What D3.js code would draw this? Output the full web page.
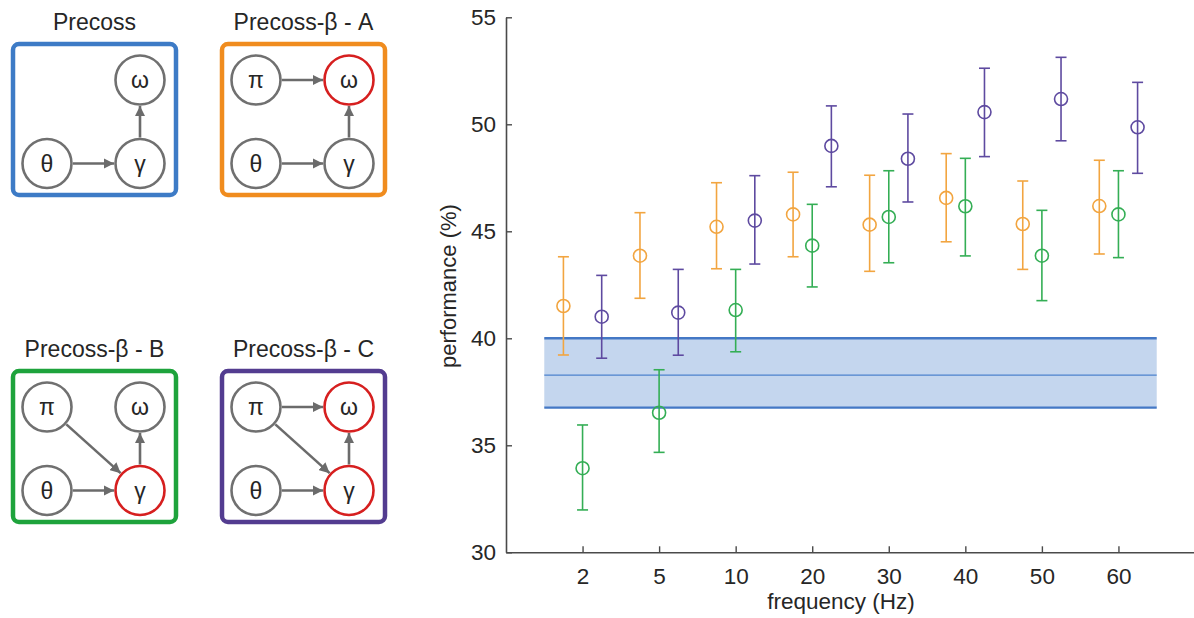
<!DOCTYPE html>
<html><head><meta charset="utf-8">
<script src="https://cdn.jsdelivr.net/npm/d3@7"></script>
<style>
html,body{margin:0;padding:0;background:#fff;}
svg{display:block;font-family:"Liberation Sans",Arial,sans-serif;}
</style></head>
<body><svg id="chart" width="1194" height="618"></svg>
<script>
// ---------- data ----------
const frequencies = ["2","5","10","20","30","40","50","60"];
const yTicks = [30,35,40,45,50,55];

const seriesNames = ["Precoss-β - A","Precoss-β - B","Precoss-β - C"];
const seriesColors = ["#F2A540","#34AE55","#5E4AA0"];
const seriesOffsets = [-0.25, 0, 0.25];

const meanA  = [41.51, 43.86, 45.21, 45.79, 45.31, 46.56, 45.34, 46.18];
const upperA = [43.81, 45.87, 47.27, 47.76, 47.62, 48.63, 47.35, 48.32];
const lowerA = [39.22, 41.87, 43.25, 43.81, 43.13, 44.51, 43.22, 43.94];

const meanB  = [33.93, 36.52, 41.32, 44.33, 45.67, 46.17, 43.86, 45.79];
const upperB = [35.95, 38.53, 43.22, 46.26, 47.83, 48.41, 45.98, 47.83];
const lowerB = [31.98, 34.67, 39.37, 42.40, 43.53, 43.85, 41.76, 43.77];

const meanC  = [41.01, 41.20, 45.50, 48.99, 48.39, 50.57, 51.18, 49.86];
const upperC = [42.94, 43.22, 47.60, 50.86, 50.48, 52.62, 53.13, 51.96];
const lowerC = [39.07, 39.21, 43.47, 47.08, 46.37, 48.49, 49.23, 47.71];

// Precoss baseline band
const bandMean = 38.28, bandLow = 36.76, bandHigh = 40.0;
const bandExtent = [-0.5, 7.5];

// diagram definitions
const diagramTitles = ["Precoss","Precoss-β - A","Precoss-β - B","Precoss-β - C"];
const diagramColors = ["#3D7BC6","#F08C1E","#1EA33C","#533C90"];
const diagramNodes = [
  {θ:"g", γ:"g", ω:"g"},
  {θ:"g", γ:"g", ω:"r", π:"g"},
  {θ:"g", γ:"r", ω:"g", π:"g"},
  {θ:"g", γ:"r", ω:"r", π:"g"}
];
const diagramEdges = [
  [["θ","γ"],["γ","ω"]],
  [["θ","γ"],["γ","ω"],["π","ω"]],
  [["θ","γ"],["γ","ω"],["π","γ"]],
  [["θ","γ"],["γ","ω"],["π","ω"],["π","γ"]]
];

// ---------- drawing ----------
const svg = d3.select("#chart");
const textColor = "#262626", axisColor = "#4a4a4a";

// main chart scales
const x = d3.scaleLinear().domain([-1, 8]).range([506, 1195]);
const y = d3.scaleLinear().domain([30, 55]).range([552.3, 17.3]);

const g = svg.append("g");

// band
g.append("rect")
  .attr("x", x(bandExtent[0])).attr("width", x(bandExtent[1]) - x(bandExtent[0]))
  .attr("y", y(bandHigh)).attr("height", y(bandLow) - y(bandHigh))
  .attr("fill", "#C4D6EE");
[bandHigh, bandLow].forEach(v => {
  g.append("line").attr("x1", x(bandExtent[0])).attr("x2", x(bandExtent[1]))
    .attr("y1", y(v)).attr("y2", y(v)).attr("stroke", "#4478C5").attr("stroke-width", 2.4);
});
g.append("line").attr("x1", x(bandExtent[0])).attr("x2", x(bandExtent[1]))
  .attr("y1", y(bandMean)).attr("y2", y(bandMean)).attr("stroke", "#4C82CD").attr("stroke-width", 1.1);

// axes
const xAxis = d3.axisBottom(x).tickValues(d3.range(frequencies.length))
  .tickFormat(i => frequencies[i]).tickSizeInner(-6).tickSizeOuter(0).tickPadding(16);
const yAxis = d3.axisLeft(y).tickValues(yTicks).tickSizeInner(-6).tickSizeOuter(0).tickPadding(10);

const gx = g.append("g").attr("transform", `translate(0,${y(30)})`).call(xAxis);
const gy = g.append("g").attr("transform", `translate(${x(-1)},0)`).call(yAxis);
[gx, gy].forEach(a => {
  a.select(".domain").attr("stroke", axisColor).attr("stroke-width", 1.6);
  a.selectAll(".tick line").attr("stroke", axisColor).attr("stroke-width", 1.4);
  a.selectAll(".tick text").attr("fill", textColor).attr("font-size", 22.5)
    .attr("font-family", '"Liberation Sans",Arial,sans-serif');
});

g.append("text").attr("x", 841).attr("y", 609).attr("text-anchor", "middle")
  .attr("font-size", 22.5).attr("fill", textColor).text("frequency (Hz)");
g.append("text").attr("transform", "translate(456,286) rotate(-90)").attr("text-anchor", "middle")
  .attr("font-size", 22).attr("fill", textColor).text("performance (%)");

// series
const seriesData = [
  {mean: meanA, upper: upperA, lower: lowerA},
  {mean: meanB, upper: upperB, lower: lowerB},
  {mean: meanC, upper: upperC, lower: lowerC}
];
seriesData.forEach((s, si) => {
  const col = seriesColors[si];
  const sg = g.append("g");
  const pts = s.mean.map((m, i) => ({i, m, hi: s.upper[i], lo: s.lower[i], cx: x(i + seriesOffsets[si])}));
  sg.selectAll(".bar").data(pts).join("line")
    .attr("x1", d => d.cx).attr("x2", d => d.cx)
    .attr("y1", d => y(d.hi)).attr("y2", d => y(d.lo))
    .attr("stroke", col).attr("stroke-width", 1.6);
  ["hi","lo"].forEach(k => {
    sg.selectAll(".cap" + k).data(pts).join("line")
      .attr("x1", d => d.cx - 5.5).attr("x2", d => d.cx + 5.5)
      .attr("y1", d => y(d[k])).attr("y2", d => y(d[k]))
      .attr("stroke", col).attr("stroke-width", 1.6);
  });
  sg.selectAll("circle").data(pts).join("circle")
    .attr("cx", d => d.cx).attr("cy", d => y(d.m)).attr("r", 6.5)
    .attr("fill", "none").attr("stroke", col).attr("stroke-width", 1.6);
});

// ---------- diagrams ----------
const boxes = [
  {x0: 13, y0: 44, titleY: 30},
  {x0: 222, y0: 44, titleY: 30},
  {x0: 13, y0: 371, titleY: 357},
  {x0: 222, y0: 371, titleY: 357}
];
const boxW = 163, boxH = 151;
// node layout offsets inside a box
const nodeCol = {π: 34, θ: 34, ω: 127, γ: 127};
const nodeRow = {π: 36, ω: 36, θ: 119.5, γ: 119.5};
const nodeR = 24.5;

const defs = svg.append("defs");
defs.append("marker").attr("id", "arr").attr("viewBox", "0 0 10 10")
  .attr("refX", 10).attr("refY", 5).attr("markerWidth", 4).attr("markerHeight", 4)
  .attr("markerUnits", "strokeWidth").attr("orient", "auto")
  .append("path").attr("d", "M0,0 L10,5 L0,10 z").attr("fill", "#6B6B6B");

boxes.forEach((b, bi) => {
  const dg = svg.append("g");
  dg.append("text").attr("x", b.x0 + boxW / 2).attr("y", b.titleY).attr("text-anchor", "middle")
    .attr("font-size", 23).attr("fill", textColor).text(diagramTitles[bi]);
  dg.append("rect").attr("x", b.x0).attr("y", b.y0).attr("width", boxW).attr("height", boxH)
    .attr("rx", 6).attr("fill", "none").attr("stroke", diagramColors[bi]).attr("stroke-width", 4.5);
  const pos = k => [b.x0 + nodeCol[k], b.y0 + nodeRow[k]];
  diagramEdges[bi].forEach(([a, c]) => {
    const [x1, y1] = pos(a), [x2, y2] = pos(c);
    const dx = x2 - x1, dy = y2 - y1, L = Math.hypot(dx, dy);
    const ux = dx / L, uy = dy / L, gap = nodeR + 1.5;
    dg.append("line")
      .attr("x1", x1 + ux * gap).attr("y1", y1 + uy * gap)
      .attr("x2", x2 - ux * gap).attr("y2", y2 - uy * gap)
      .attr("stroke", "#6B6B6B").attr("stroke-width", 2.6).attr("marker-end", "url(#arr)");
  });
  Object.entries(diagramNodes[bi]).forEach(([k, c]) => {
    const [cx, cy] = pos(k);
    dg.append("circle").attr("cx", cx).attr("cy", cy).attr("r", nodeR)
      .attr("fill", "#fff").attr("stroke", c === "r" ? "#D61F1F" : "#707070").attr("stroke-width", 2.6);
    dg.append("text").attr("x", cx).attr("y", cy).attr("dy", "0.35em").attr("text-anchor", "middle")
      .attr("font-size", 23).attr("fill", textColor).text(k);
  });
});
</script></body></html>
